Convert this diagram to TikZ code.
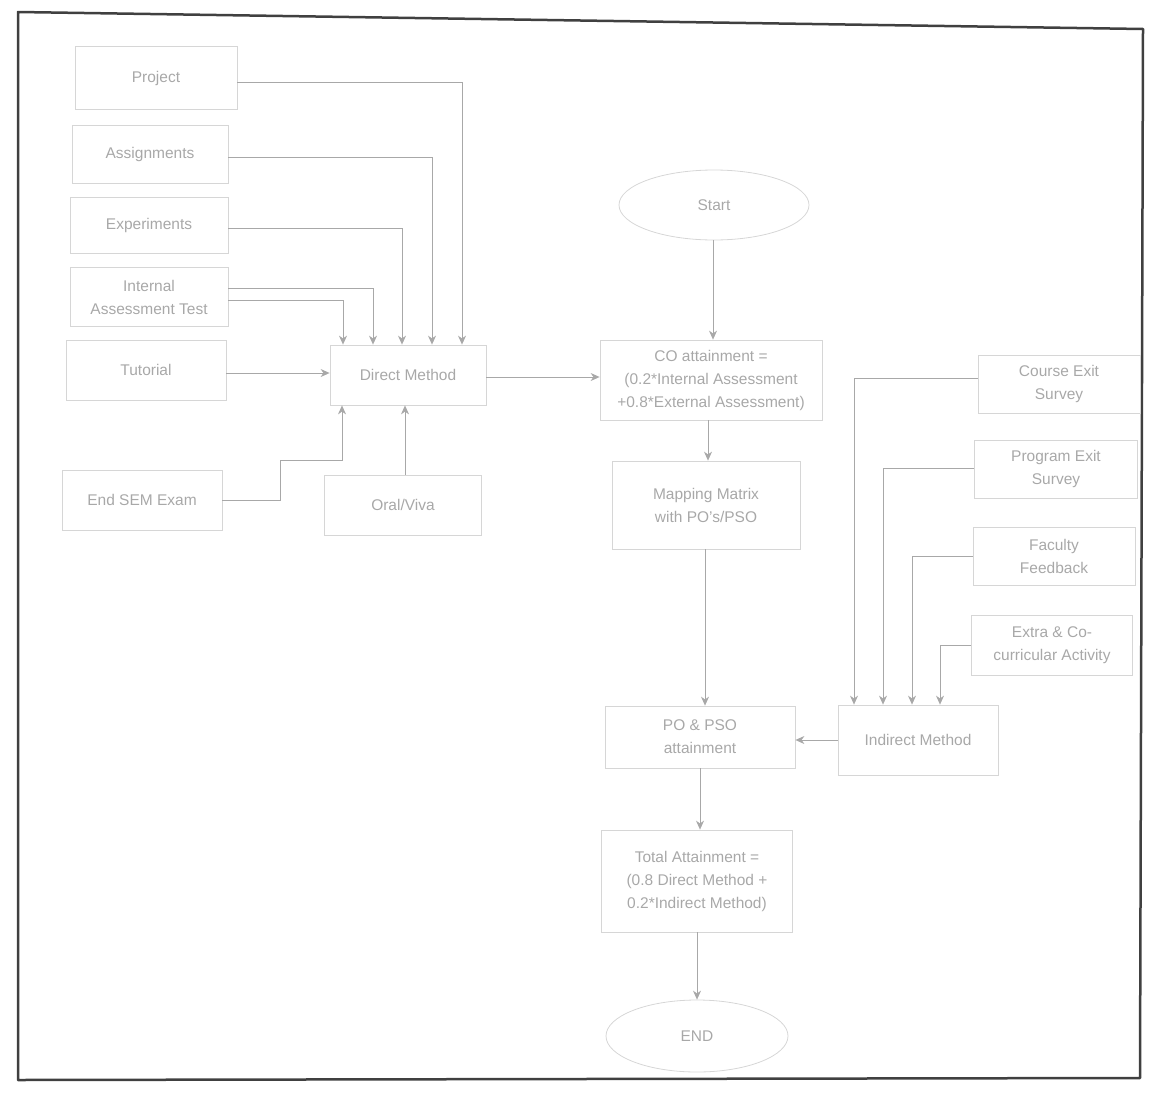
\documentclass[tikz,border=0pt]{standalone}
\usepackage{fontspec}
\setmainfont{Liberation Sans}
\usetikzlibrary{arrows.meta,shapes.geometric}
\definecolor{txt}{gray}{0.66}
\definecolor{edge}{gray}{0.84}
\definecolor{conn}{gray}{0.66}
\tikzset{
  box/.style={draw=edge, line width=0.8pt, text=txt, align=center, inner sep=2pt,
    font=\fontsize{15.5}{23}\selectfont},
  oval/.style={ellipse, draw=edge, line width=0.8pt, text=txt, inner sep=0pt,
    font=\fontsize{15.5}{23}\selectfont},
  conn/.style={draw=conn, line width=0.7pt, -{Stealth[length=9pt,width=8pt]}},
}
\begin{document}
\begin{tikzpicture}[x=1pt,y=-1pt]
\useasboundingbox (0,0) rectangle (1162,1095);
% scanned page frame
\draw[line width=2.5pt, black!75, line join=round] (18,12) -- (1143,29) -- (1140,1078) -- (18,1080) -- cycle;

% left column (direct method inputs)
\node[box, minimum width=162, minimum height=63] (project) at (156,78) {Project};
\node[box, minimum width=156, minimum height=58] (assign) at (150,154) {Assignments};
\node[box, minimum width=158, minimum height=56] (exper) at (149,225) {Experiments};
\node[box, minimum width=158, minimum height=59] (iat) at (149,297) {Internal\\Assessment Test};
\node[box, minimum width=160, minimum height=60] (tut) at (146,370) {Tutorial};
\node[box, minimum width=160, minimum height=60] (endsem) at (142,500) {End SEM Exam};
\node[box, minimum width=157, minimum height=60] (oral) at (403,505) {Oral/Viva};
\node[box, minimum width=156, minimum height=60] (direct) at (408,375) {Direct Method};

% middle column
\node[oval, minimum width=190, minimum height=70] (start) at (714,205) {Start};
\node[box, minimum width=222, minimum height=80] (co) at (711,380) {CO attainment =\\(0.2*Internal Assessment\\+0.8*External Assessment)};
\node[box, minimum width=188, minimum height=88] (map) at (706,505) {Mapping Matrix\\with PO's/PSO};
\node[box, minimum width=190, minimum height=62] (popso) at (700,737) {PO \& PSO\\attainment};
\node[box, minimum width=160, minimum height=70] (indirect) at (918,740) {Indirect Method};
\node[box, minimum width=191, minimum height=102] (total) at (697,881) {Total Attainment =\\(0.8 Direct Method +\\0.2*Indirect Method)};
\node[oval, minimum width=182, minimum height=72] (end) at (697,1036) {END};

% right column (indirect method inputs)
\node[box, minimum width=162, minimum height=58] (ces) at (1059,384) {Course Exit\\Survey};
\node[box, minimum width=163, minimum height=58] (pes) at (1056,469) {Program Exit\\Survey};
\node[box, minimum width=162, minimum height=58] (fac) at (1054,556) {Faculty\\Feedback};
\node[box, minimum width=161, minimum height=60] (extra) at (1052,645) {Extra \& Co-\\curricular Activity};

% connectors into Direct Method
\draw[conn] (project.east |- 0,82) -| (direct.north -| 462,0);
\draw[conn] (assign.east |- 0,157) -| (direct.north -| 432,0);
\draw[conn] (exper.east |- 0,228) -| (direct.north -| 402,0);
\draw[conn] (iat.east |- 0,288) -| (direct.north -| 373,0);
\draw[conn] (iat.east |- 0,300) -| (direct.north -| 343,0);
\draw[conn] (tut.east |- 0,373) -- (direct.west |- 0,373);
\coordinate (esa) at (280,500);
\coordinate (esb) at (280,460);
\draw[conn] (endsem.east |- esa) -- (esa) -- (esb) -| (direct.south -| 342,0);
\draw[conn] (oral.north -| 405,0) -- (direct.south -| 405,0);
\draw[conn] (direct.east |- 0,377) -- (co.west |- 0,377);

% main chain
\draw[conn] (start.south -| 713,0) -- (co.north -| 713,0);
\draw[conn] (co.south -| 708,0) -- (map.north -| 708,0);
\draw[conn] (map.south -| 705,0) -- (popso.north -| 705,0);
\draw[conn] (indirect.west |- 0,740) -- (popso.east |- 0,740);
\draw[conn] (popso.south -| 700,0) -- (total.north -| 700,0);
\draw[conn] (total.south -| 697,0) -- (end.north -| 697,0);

% connectors into Indirect Method
\draw[conn] (ces.west |- 0,378) -| (indirect.north -| 854,0);
\draw[conn] (pes.west |- 0,468) -| (indirect.north -| 883,0);
\draw[conn] (fac.west |- 0,556) -| (indirect.north -| 912,0);
\draw[conn] (extra.west |- 0,645) -| (indirect.north -| 940,0);
\end{tikzpicture}
\end{document}
